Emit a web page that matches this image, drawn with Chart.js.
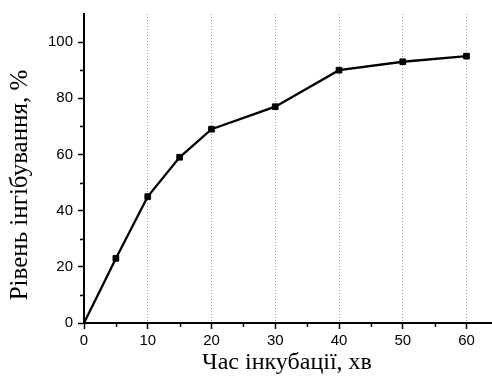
<!DOCTYPE html>
<html>
<head>
<meta charset="utf-8">
<script src="https://cdn.jsdelivr.net/npm/chart.js@4.4.0/dist/chart.umd.min.js"></script>
<style>
  html, body { margin: 0; padding: 0; background: #fff; }
  #wrap { width: 492px; height: 376px; }
</style>
</head>
<body>
<div id="wrap"><canvas id="chart"></canvas></div>
<script>
// incubation time (min) and inhibition level (%)
const timeMin = [0, 5, 10, 15, 20, 30, 40, 50, 60];
const inhibition = [0, 23, 45, 59, 69, 77, 90, 93, 95];

const xTitle = 'Час інкубації, хв';
const yTitle = 'Рівень інгібування, %';

const xMinorTicks = [5, 15, 25, 35, 45, 55];
const yMinorTicks = [10, 30, 50, 70, 90];

// minor tick marks + axis titles in Times-like serif
const axisExtras = {
    id: 'axisExtras',
    afterDraw(chart) {
        const ctx = chart.ctx;
        const area = chart.chartArea;
        const xs = chart.scales.x;
        const ys = chart.scales.y;

        ctx.save();
        ctx.strokeStyle = '#000';
        ctx.lineWidth = 1.5;
        ctx.beginPath();
        xMinorTicks.forEach(v => {
            const px = Math.round(xs.getPixelForValue(v)) + 0.5;
            ctx.moveTo(px, area.bottom);
            ctx.lineTo(px, area.bottom + 4);
        });
        yMinorTicks.forEach(v => {
            const py = Math.round(ys.getPixelForValue(v)) + 0.5;
            ctx.moveTo(area.left, py);
            ctx.lineTo(area.left - 4, py);
        });
        ctx.stroke();

        ctx.fillStyle = '#000';
        ctx.textAlign = 'center';
        ctx.textBaseline = 'alphabetic';
        ctx.font = '24px "Liberation Serif", "Times New Roman", serif';
        ctx.fillText(xTitle, 287, 369);

        ctx.font = '25px "Liberation Serif", "Times New Roman", serif';
        ctx.translate(27, 185);
        ctx.rotate(-Math.PI / 2);
        ctx.fillText(yTitle, 0, 0);
        ctx.restore();
    }
};

const ctx = document.getElementById('chart').getContext('2d');

new Chart(ctx, {
    type: 'line',
    data: {
        datasets: [{
            data: timeMin.map((t, i) => ({ x: t, y: inhibition[i] })),
            borderColor: '#000',
            borderWidth: 2.3,
            backgroundColor: '#000',
            pointStyle: 'rect',
            pointRadius: timeMin.map(t => t === 0 ? 0 : 4),
            pointBorderWidth: 1,
            pointBackgroundColor: '#000',
            pointBorderColor: '#000',
            tension: 0,
            clip: false
        }]
    },
    options: {
        responsive: true,
        maintainAspectRatio: false,
        animation: false,
        layout: {
            autoPadding: false,
            padding: { top: 13, right: 0, left: 0, bottom: 0 }
        },
        plugins: {
            legend: { display: false },
            tooltip: { enabled: false }
        },
        scales: {
            x: {
                type: 'linear',
                min: 0,
                max: 64,
                afterFit: scale => {
                    scale.height = 53;
                    scale.paddingRight = 0;
                },
                border: { display: true, color: '#000', width: 2, dash: [1, 2] },
                grid: {
                    color: c => (c.tick && c.tick.value > 0) ? '#9a9a9a' : 'transparent',
                    lineWidth: 1,
                    tickColor: '#000',
                    tickWidth: 1.5,
                    tickLength: 6,
                    tickBorderDash: []
                },
                ticks: {
                    stepSize: 10,
                    includeBounds: false,
                    color: '#000',
                    padding: 3,
                    maxRotation: 0,
                    font: { family: '"Liberation Sans", Arial, sans-serif', size: 15 }
                }
            },
            y: {
                type: 'linear',
                min: 0,
                max: 110,
                afterFit: scale => { scale.width = 84; },
                border: { display: true, color: '#000', width: 2 },
                grid: {
                    drawOnChartArea: false,
                    tickColor: '#000',
                    tickWidth: 1.5,
                    tickLength: 6
                },
                ticks: {
                    stepSize: 20,
                    includeBounds: false,
                    color: '#000',
                    padding: 5,
                    font: { family: '"Liberation Sans", Arial, sans-serif', size: 15 }
                }
            }
        }
    },
    plugins: [axisExtras]
});
</script>
</body>
</html>
